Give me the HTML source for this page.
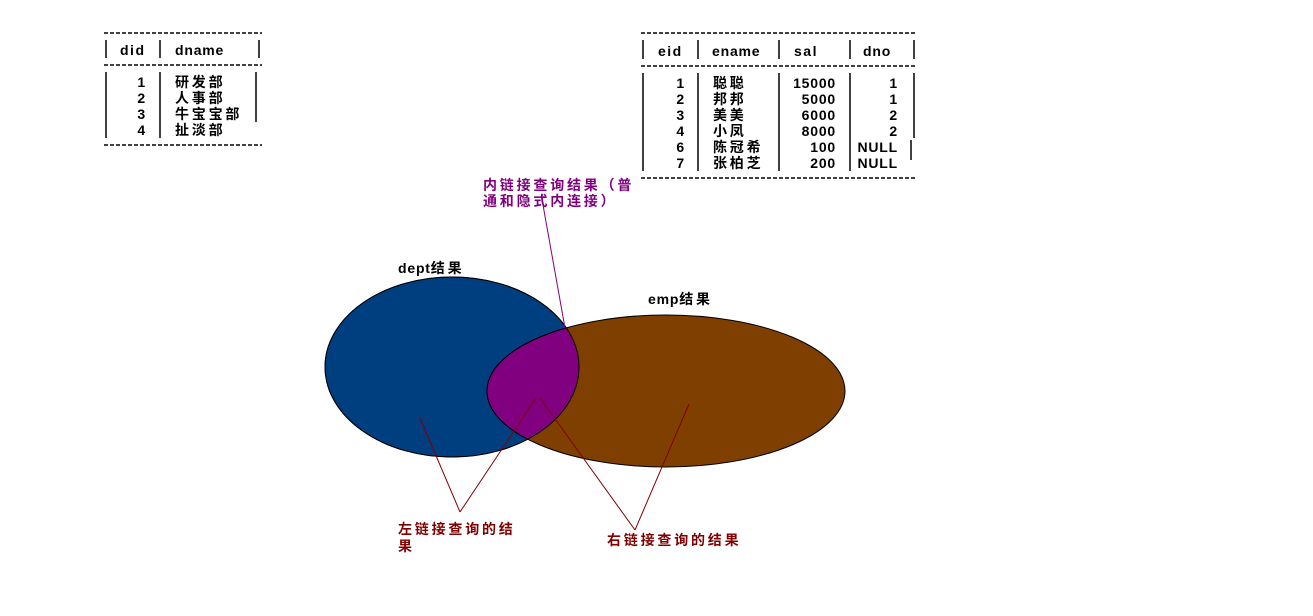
<!DOCTYPE html>
<html><head><meta charset="utf-8"><style>
body{margin:0;background:#fff;width:1313px;height:611px;overflow:hidden}
svg text{font-family:"Liberation Sans","Noto Sans CJK SC",sans-serif;font-weight:bold;font-size:14px;letter-spacing:0.8px}
svg .c{letter-spacing:2.8px}
</style></head><body>
<svg width="1313" height="611">
<defs><clipPath id="dc"><ellipse cx="452" cy="367" rx="127" ry="90"/></clipPath></defs>
<g stroke="#000" stroke-width="1.5">
 <line x1="104" y1="33" x2="262" y2="33" stroke-dasharray="4 2"/>
 <line x1="104" y1="65" x2="262" y2="65" stroke-dasharray="4 2"/>
 <line x1="104" y1="145" x2="262" y2="145" stroke-dasharray="4 2"/>
 <line x1="106" y1="40" x2="106" y2="58"/><line x1="160" y1="40" x2="160" y2="58"/><line x1="259" y1="40" x2="259" y2="58"/>
 <line x1="106" y1="72" x2="106" y2="138"/><line x1="160" y1="72" x2="160" y2="138"/><line x1="256" y1="72" x2="256" y2="122"/>
</g>
<g fill="#000">
 <text x="120" y="55" style="letter-spacing:1.5px">did</text><text x="175" y="55">dname</text>
 <text x="146" y="87" text-anchor="end">1</text><text class="c" x="175" y="87">研发部</text>
 <text x="146" y="103" text-anchor="end">2</text><text class="c" x="175" y="103">人事部</text>
 <text x="146" y="119" text-anchor="end">3</text><text class="c" x="175" y="119">牛宝宝部</text>
 <text x="146" y="135" text-anchor="end">4</text><text class="c" x="175" y="135">扯淡部</text>
</g>
<g stroke="#000" stroke-width="1.5">
 <line x1="641" y1="33" x2="917" y2="33" stroke-dasharray="4 2"/>
 <line x1="641" y1="66" x2="917" y2="66" stroke-dasharray="4 2"/>
 <line x1="641" y1="178" x2="917" y2="178" stroke-dasharray="4 2"/>
 <line x1="643" y1="40" x2="643" y2="59"/><line x1="698" y1="40" x2="698" y2="59"/><line x1="779" y1="40" x2="779" y2="59"/><line x1="850" y1="40" x2="850" y2="59"/><line x1="914" y1="40" x2="914" y2="59"/>
 <line x1="643" y1="73" x2="643" y2="171"/><line x1="698" y1="73" x2="698" y2="171"/><line x1="779" y1="73" x2="779" y2="171"/><line x1="850" y1="73" x2="850" y2="171"/><line x1="914" y1="73" x2="914" y2="138"/><line x1="911" y1="140" x2="911" y2="160"/>
</g>
<g fill="#000">
 <text x="658" y="56" style="letter-spacing:1.5px">eid</text><text x="712" y="56">ename</text><text x="794" y="56" style="letter-spacing:1.5px">sal</text><text x="863" y="56">dno</text>
 <text x="685" y="88" text-anchor="end">1</text><text class="c" x="713" y="88">聪聪</text><text x="836" y="88" text-anchor="end">15000</text><text x="898" y="88" text-anchor="end">1</text>
 <text x="685" y="104" text-anchor="end">2</text><text class="c" x="713" y="104">邦邦</text><text x="836" y="104" text-anchor="end">5000</text><text x="898" y="104" text-anchor="end">1</text>
 <text x="685" y="120" text-anchor="end">3</text><text class="c" x="713" y="120">美美</text><text x="836" y="120" text-anchor="end">6000</text><text x="898" y="120" text-anchor="end">2</text>
 <text x="685" y="136" text-anchor="end">4</text><text class="c" x="713" y="136">小凤</text><text x="836" y="136" text-anchor="end">8000</text><text x="898" y="136" text-anchor="end">2</text>
 <text x="685" y="152" text-anchor="end">6</text><text class="c" x="713" y="152">陈冠希</text><text x="836" y="152" text-anchor="end">100</text><text x="898" y="152" text-anchor="end">NULL</text>
 <text x="685" y="168" text-anchor="end">7</text><text class="c" x="713" y="168">张柏芝</text><text x="836" y="168" text-anchor="end">200</text><text x="898" y="168" text-anchor="end">NULL</text>
</g>
<ellipse cx="452" cy="367" rx="127" ry="90" fill="#003f7f" stroke="#000"/>
<ellipse cx="666" cy="391" rx="179" ry="76" fill="#7f3f00" stroke="#000"/>
<ellipse cx="666" cy="391" rx="179" ry="76" fill="#800080" stroke="#000" clip-path="url(#dc)"/>
<ellipse cx="452" cy="367" rx="127" ry="90" fill="none" stroke="#000"/>
<text x="398" y="273">dept<tspan class="c">结果</tspan></text>
<text x="648" y="304">emp<tspan class="c">结果</tspan></text>
<line x1="543" y1="205" x2="565" y2="328" stroke="#800080"/>
<text class="c" x="483" y="190" fill="#800080">内链接查询结果（普</text>
<text class="c" x="483" y="206" fill="#800080">通和隐式内连接）</text>
<g stroke="#800000">
 <line x1="420" y1="418" x2="460" y2="512"/><line x1="536" y1="398" x2="460" y2="512"/>
 <line x1="540" y1="398" x2="635" y2="530"/><line x1="689" y1="404" x2="635" y2="530"/>
</g>
<text class="c" x="398" y="534" fill="#800000">左链接查询的结</text>
<text class="c" x="398" y="551" fill="#800000">果</text>
<text class="c" x="607" y="545" fill="#800000">右链接查询的结果</text>
</svg>
</body></html>
